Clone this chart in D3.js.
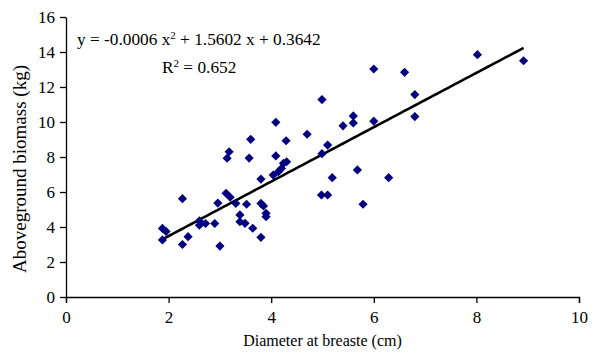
<!DOCTYPE html>
<html>
<head>
<meta charset="utf-8">
<script src="https://cdn.jsdelivr.net/npm/d3@7"></script>
<style>
  body { margin: 0; background: #fff; }
  svg text { font-family: 'Liberation Serif', 'Times New Roman', 'DejaVu Serif', serif; }
</style>
</head>
<body>
<svg></svg>
<script>
// diameter (cm) and biomass (kg)
let diameter = [1.88, 1.88, 1.95, 2.27, 2.27, 2.38, 2.6, 2.6, 2.72, 2.9,
                3.0, 2.96, 3.12, 3.2, 3.31, 3.52, 3.39, 3.39, 3.49, 3.64,
                3.8, 3.8, 3.85, 3.9, 3.9, 3.8, 4.04, 4.14, 4.2, 4.24,
                4.3, 4.09, 4.09, 3.6, 3.18, 3.14, 3.57, 4.29, 4.7, 5.1,
                4.99, 4.99, 5.4, 5.6, 5.6, 6.0, 6.0, 6.6, 6.8, 6.8,
                8.02, 8.92, 5.68, 5.19, 6.29, 4.98, 5.1, 5.79]
let biomass = [3.92, 3.26, 3.75, 5.62, 3.0, 3.45, 4.35, 4.1, 4.2, 4.2,
               2.91, 5.37, 5.93, 5.7, 5.35, 5.3, 4.69, 4.3, 4.21, 3.93,
               3.41, 5.35, 5.2, 4.78, 4.59, 6.74, 6.97, 7.16, 7.35, 7.64,
               7.73, 8.06, 9.98, 9.01, 8.3, 7.93, 7.94, 8.93, 9.3, 8.68,
               8.19, 11.28, 9.78, 10.35, 9.95, 10.05, 13.03, 12.84, 11.57, 10.31,
               13.85, 13.5, 7.26, 6.82, 6.82, 5.83, 5.83, 5.3]

let xTicks = [0, 2, 4, 6, 8, 10]
let yTicks = [0, 2, 4, 6, 8, 10, 12, 14, 16]

// trendline coefficients as printed on the chart
let coefA = -0.0006
let coefB = 1.5602
let coefC = 0.3642

let width = 595
let height = 354
let serif = "'Liberation Serif', 'Times New Roman', 'DejaVu Serif', serif"

let svg = d3.select('svg')
    .attr('width', width)
    .attr('height', height)

let xScale = d3.scaleLinear().domain([0, 10]).range([66, 579])
let yScale = d3.scaleLinear().domain([0, 16]).range([297, 17])

let xAxis = d3.axisBottom(xScale).tickValues(xTicks).tickSize(6).tickPadding(8)
let yAxis = d3.axisLeft(yScale).tickValues(yTicks).tickSize(6).tickPadding(5)

let styleAxis = (g) => {
    g.attr('font-family', serif)
    g.selectAll('.domain').attr('stroke', '#000').attr('stroke-width', 1.3)
    g.selectAll('.tick line').attr('stroke', '#000').attr('stroke-width', 1.3)
    g.selectAll('.tick text')
        .attr('font-size', 17)
        .attr('fill', '#000')
}

svg.append('g')
    .attr('transform', 'translate(0,' + yScale(0) + ')')
    .call(xAxis.tickSizeOuter(6))
    .call(styleAxis)

svg.append('g')
    .attr('transform', 'translate(' + xScale(0) + ',0)')
    .call(yAxis.tickSizeOuter(0))
    .call(styleAxis)

// trendline
let xMin = d3.min(diameter)
let xMax = d3.max(diameter)
let trend = d3.range(0, 101).map(i => {
    let x = xMin + (xMax - xMin) * i / 100
    return [x, coefA * x * x + coefB * x + coefC]
})

svg.append('path')
    .datum(trend)
    .attr('fill', 'none')
    .attr('stroke', '#000')
    .attr('stroke-width', 2.6)
    .attr('d', d3.line().x(d => xScale(d[0])).y(d => yScale(d[1])))

// points
let r = 4.6
svg.append('g')
    .selectAll('path')
    .data(diameter)
    .join('path')
    .attr('transform', (d, i) => 'translate(' + xScale(d) + ',' + yScale(biomass[i]) + ')')
    .attr('d', 'M0,' + (-r) + 'L' + r + ',0L0,' + r + 'L' + (-r) + ',0Z')
    .attr('fill', '#000080')

// equation
let eq = svg.append('text')
    .attr('x', 77)
    .attr('y', 45)
    .attr('font-family', serif)
    .attr('font-size', 17.3)
eq.append('tspan').text('y = -0.0006 x')
eq.append('tspan').attr('dy', -6).attr('font-size', 11).text('2')
eq.append('tspan').attr('dy', 6).text(' + 1.5602 x + 0.3642')

let r2 = svg.append('text')
    .attr('x', 162)
    .attr('y', 73)
    .attr('font-family', serif)
    .attr('font-size', 17.3)
r2.append('tspan').text('R')
r2.append('tspan').attr('dy', -6).attr('font-size', 11).text('2')
r2.append('tspan').attr('dy', 6).text(' = 0.652')

// axis titles
svg.append('text')
    .attr('x', (xScale(0) + xScale(10)) / 2)
    .attr('y', 346)
    .attr('text-anchor', 'middle')
    .attr('font-family', serif)
    .attr('font-size', 16)
    .text('Diameter at breaste (cm)')

svg.append('text')
    .attr('transform', 'translate(26,' + ((yScale(0) + yScale(16)) / 2 + 12) + ') rotate(-90)')
    .attr('text-anchor', 'middle')
    .attr('font-family', serif)
    .attr('font-size', 19)
    .text('Aboveground biomass (kg)')
</script>
</body>
</html>
